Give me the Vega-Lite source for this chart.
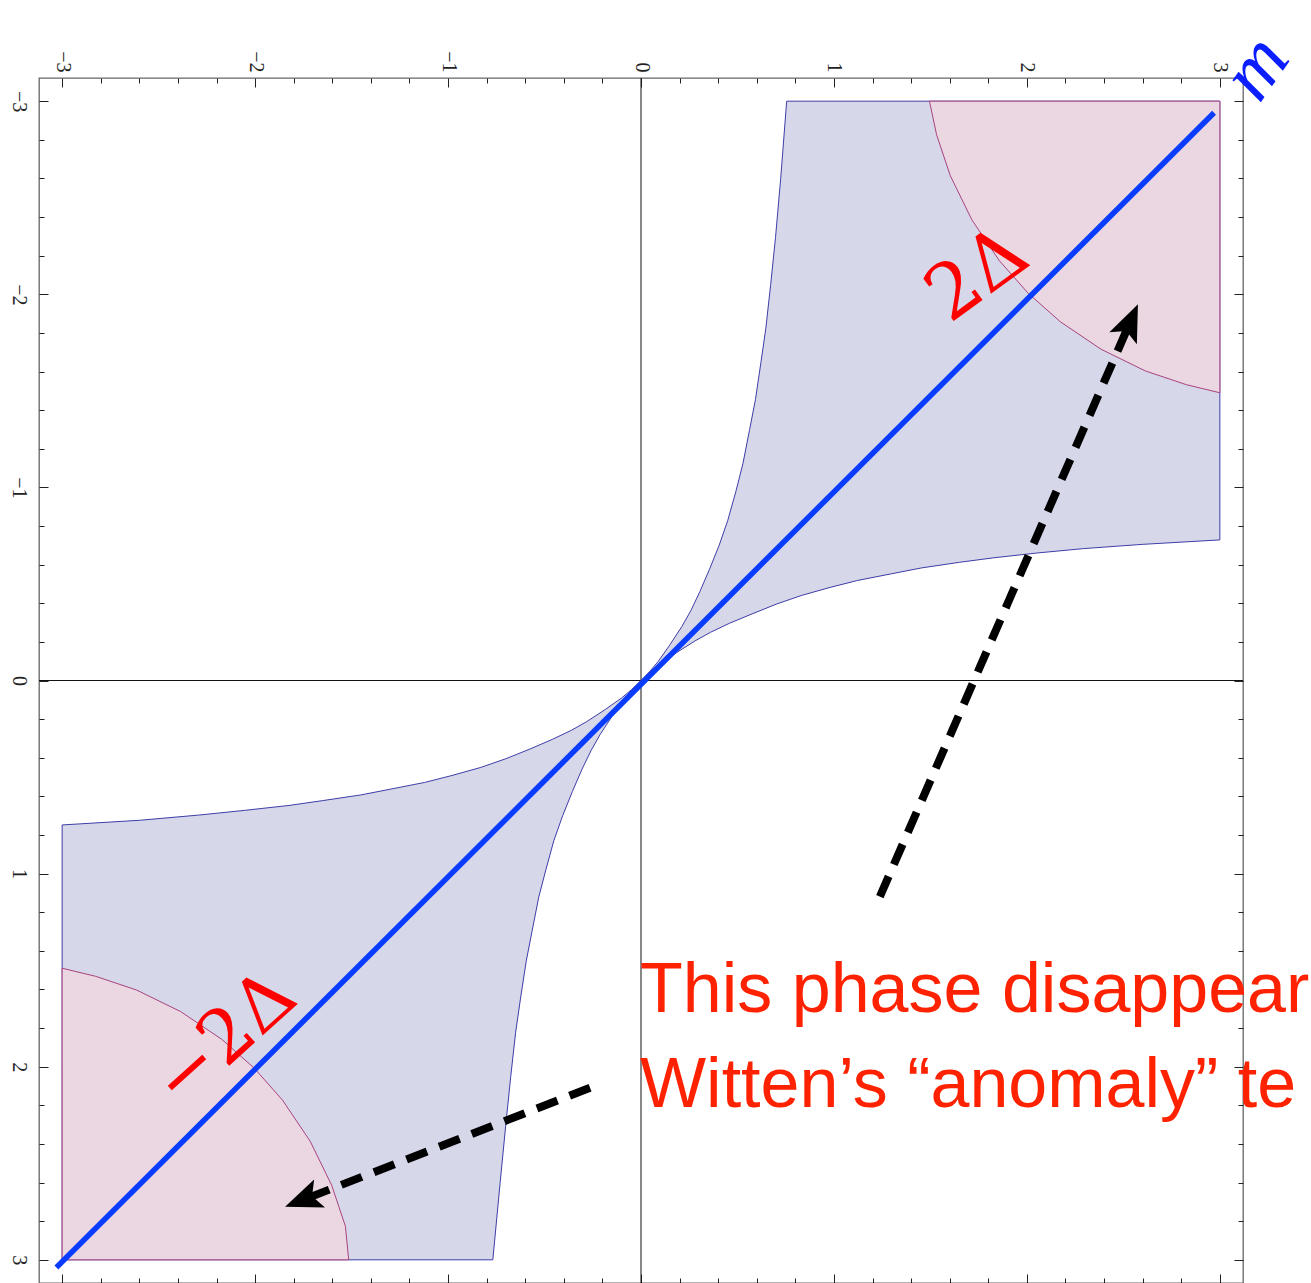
{
  "$schema": "https://vega.github.io/schema/vega-lite/v6.json",
  "width": 1204,
  "height": 1205,
  "autosize": {"type": "none"},
  "padding": {"left": 39, "top": 78, "right": 68, "bottom": 0},
  "background": "white",
  "config": {
    "view": {"stroke": "#666666", "strokeWidth": 1.3},
    "axis": {"grid": false, "domain": false, "title": null, "labelFont": "Liberation Serif", "labelFontSize": 20, "labelColor": "#222222", "tickColor": "#222222", "tickWidth": 1}
  },
  "datasets": {
    "blueUR": [
      {"i": 0, "x": 0, "y": 0}, {"i": 1, "x": 0.048, "y": -0.05}, {"i": 2, "x": 0.09, "y": -0.1},
      {"i": 3, "x": 0.15, "y": -0.185}, {"i": 4, "x": 0.212, "y": -0.28}, {"i": 5, "x": 0.258, "y": -0.361},
      {"i": 6, "x": 0.305, "y": -0.46}, {"i": 7, "x": 0.355, "y": -0.576}, {"i": 8, "x": 0.405, "y": -0.7},
      {"i": 9, "x": 0.45, "y": -0.83}, {"i": 10, "x": 0.492, "y": -0.98}, {"i": 11, "x": 0.528, "y": -1.122},
      {"i": 12, "x": 0.563, "y": -1.3}, {"i": 13, "x": 0.593, "y": -1.454}, {"i": 14, "x": 0.622, "y": -1.65},
      {"i": 15, "x": 0.647, "y": -1.824}, {"i": 16, "x": 0.672, "y": -2.05}, {"i": 17, "x": 0.697, "y": -2.293},
      {"i": 18, "x": 0.724, "y": -2.6}, {"i": 19, "x": 0.755, "y": -3.0}, {"i": 20, "x": 3.0, "y": -3.0},
      {"i": 21, "x": 3.0, "y": -0.728}, {"i": 22, "x": 2.6, "y": -0.705}, {"i": 23, "x": 2.293, "y": -0.683},
      {"i": 24, "x": 2.05, "y": -0.66}, {"i": 25, "x": 1.824, "y": -0.635}, {"i": 26, "x": 1.65, "y": -0.612},
      {"i": 27, "x": 1.454, "y": -0.583}, {"i": 28, "x": 1.3, "y": -0.553}, {"i": 29, "x": 1.122, "y": -0.518},
      {"i": 30, "x": 0.98, "y": -0.482}, {"i": 31, "x": 0.83, "y": -0.44}, {"i": 32, "x": 0.7, "y": -0.395},
      {"i": 33, "x": 0.576, "y": -0.345}, {"i": 34, "x": 0.46, "y": -0.297}, {"i": 35, "x": 0.361, "y": -0.25},
      {"i": 36, "x": 0.28, "y": -0.205}, {"i": 37, "x": 0.185, "y": -0.145}, {"i": 38, "x": 0.1, "y": -0.088},
      {"i": 39, "x": 0.05, "y": -0.047}, {"i": 40, "x": 0, "y": 0}
    ],
    "blueLL": [
      {"i": 0, "x": 0, "y": 0}, {"i": 1, "x": -0.05, "y": 0.048}, {"i": 2, "x": -0.1, "y": 0.09},
      {"i": 3, "x": -0.185, "y": 0.15}, {"i": 4, "x": -0.28, "y": 0.212}, {"i": 5, "x": -0.361, "y": 0.258},
      {"i": 6, "x": -0.46, "y": 0.305}, {"i": 7, "x": -0.576, "y": 0.355}, {"i": 8, "x": -0.7, "y": 0.405},
      {"i": 9, "x": -0.83, "y": 0.45}, {"i": 10, "x": -0.98, "y": 0.492}, {"i": 11, "x": -1.122, "y": 0.528},
      {"i": 12, "x": -1.3, "y": 0.563}, {"i": 13, "x": -1.454, "y": 0.593}, {"i": 14, "x": -1.65, "y": 0.622},
      {"i": 15, "x": -1.824, "y": 0.647}, {"i": 16, "x": -2.05, "y": 0.672}, {"i": 17, "x": -2.293, "y": 0.697},
      {"i": 18, "x": -2.6, "y": 0.724}, {"i": 19, "x": -3.0, "y": 0.748}, {"i": 20, "x": -3.0, "y": 3.0},
      {"i": 21, "x": -0.768, "y": 3.0}, {"i": 22, "x": -0.73, "y": 2.6}, {"i": 23, "x": -0.7, "y": 2.293},
      {"i": 24, "x": -0.675, "y": 2.05}, {"i": 25, "x": -0.65, "y": 1.824}, {"i": 26, "x": -0.625, "y": 1.65},
      {"i": 27, "x": -0.595, "y": 1.454}, {"i": 28, "x": -0.565, "y": 1.3}, {"i": 29, "x": -0.53, "y": 1.122},
      {"i": 30, "x": -0.493, "y": 0.98}, {"i": 31, "x": -0.452, "y": 0.83}, {"i": 32, "x": -0.406, "y": 0.7},
      {"i": 33, "x": -0.356, "y": 0.576}, {"i": 34, "x": -0.306, "y": 0.46}, {"i": 35, "x": -0.258, "y": 0.361},
      {"i": 36, "x": -0.212, "y": 0.28}, {"i": 37, "x": -0.15, "y": 0.185}, {"i": 38, "x": -0.09, "y": 0.1},
      {"i": 39, "x": -0.048, "y": 0.05}, {"i": 40, "x": 0, "y": 0}
    ],
    "pinkUR": [
      {"i": 0, "x": 1.495, "y": -3.0}, {"i": 1, "x": 3.0, "y": -3.0}, {"i": 2, "x": 3.0, "y": -1.49},
      {"i": 3, "x": 2.826, "y": -1.532}, {"i": 4, "x": 2.614, "y": -1.603}, {"i": 5, "x": 2.385, "y": -1.715},
      {"i": 6, "x": 2.173, "y": -1.858}, {"i": 7, "x": 2.006, "y": -2.006}, {"i": 8, "x": 1.858, "y": -2.173},
      {"i": 9, "x": 1.715, "y": -2.385}, {"i": 10, "x": 1.603, "y": -2.614}, {"i": 11, "x": 1.532, "y": -2.826},
      {"i": 12, "x": 1.495, "y": -3.0}
    ],
    "pinkLL": [
      {"i": 0, "x": -3.0, "y": 1.49}, {"i": 1, "x": -2.826, "y": 1.532}, {"i": 2, "x": -2.614, "y": 1.603},
      {"i": 3, "x": -2.385, "y": 1.715}, {"i": 4, "x": -2.173, "y": 1.858}, {"i": 5, "x": -2.006, "y": 2.006},
      {"i": 6, "x": -1.858, "y": 2.173}, {"i": 7, "x": -1.715, "y": 2.385}, {"i": 8, "x": -1.603, "y": 2.614},
      {"i": 9, "x": -1.532, "y": 2.826}, {"i": 10, "x": -1.515, "y": 3.0}, {"i": 11, "x": -3.0, "y": 3.0},
      {"i": 12, "x": -3.0, "y": 1.49}
    ],
    "diag": [{"x": -3.03, "y": 3.04}, {"x": 2.97, "y": -2.94}],
    "arrow1": [{"i": 0, "x": 1.238, "y": 1.119}, {"i": 1, "x": 2.534, "y": -1.853}],
    "arrow2": [{"i": 0, "x": -0.264, "y": 2.109}, {"i": 1, "x": -1.748, "y": 2.688}],
    "head1": [{"x": 2.534, "y": -1.853}],
    "head2": [{"x": -1.748, "y": 2.688}]
  },
  "resolve": {"axis": {"x": "independent", "y": "independent"}},
  "layer": [
    {
      "data": {"values": [{"v": 0}]},
      "mark": {"type": "rule", "color": "#111111", "strokeWidth": 1},
      "encoding": {"x": {"field": "v", "type": "quantitative", "scale": {"domain": [-3.12, 3.12], "nice": false, "zero": false}, "axis": null}}
    },
    {
      "data": {"values": [{"v": 0}]},
      "mark": {"type": "rule", "color": "#111111", "strokeWidth": 1},
      "encoding": {"y": {"field": "v", "type": "quantitative", "scale": {"domain": [-3.12, 3.12], "reverse": true, "nice": false, "zero": false}, "axis": null}}
    },
    {
      "data": {"name": "blueUR"},
      "mark": {"type": "line", "fill": "#d6d8ea", "stroke": "#3d3da8", "strokeWidth": 1},
      "encoding": {
        "x": {"field": "x", "type": "quantitative", "scale": {"domain": [-3.12, 3.12], "nice": false, "zero": false},
              "axis": {"orient": "top", "values": [-3, -2, -1, 0, 1, 2, 3], "tickSize": -9, "labelAngle": 90, "labelAlign": "right", "labelBaseline": "middle", "labelPadding": 15}},
        "y": {"field": "y", "type": "quantitative", "scale": {"domain": [-3.12, 3.12], "reverse": true, "nice": false, "zero": false},
              "axis": {"orient": "left", "values": [-3, -2, -1, 0, 1, 2, 3], "tickSize": -9, "labelAngle": 90, "labelAlign": "center", "labelBaseline": "top", "labelPadding": 20}},
        "order": {"field": "i", "type": "quantitative"}
      }
    },
    {
      "data": {"name": "blueLL"},
      "mark": {"type": "line", "fill": "#d6d8ea", "stroke": "#3d3da8", "strokeWidth": 1},
      "encoding": {
        "x": {"field": "x", "type": "quantitative", "scale": {"domain": [-3.12, 3.12], "nice": false, "zero": false},
              "axis": {"orient": "top", "values": [-2.8, -2.6, -2.4, -2.2, -1.8, -1.6, -1.4, -1.2, -0.8, -0.6, -0.4, -0.2, 0.2, 0.4, 0.6, 0.8, 1.2, 1.4, 1.6, 1.8, 2.2, 2.4, 2.6, 2.8], "tickSize": -5, "labels": false}},
        "y": {"field": "y", "type": "quantitative", "scale": {"domain": [-3.12, 3.12], "reverse": true, "nice": false, "zero": false},
              "axis": {"orient": "left", "values": [-2.8, -2.6, -2.4, -2.2, -1.8, -1.6, -1.4, -1.2, -0.8, -0.6, -0.4, -0.2, 0.2, 0.4, 0.6, 0.8, 1.2, 1.4, 1.6, 1.8, 2.2, 2.4, 2.6, 2.8], "tickSize": -5, "labels": false}},
        "order": {"field": "i", "type": "quantitative"}
      }
    },
    {
      "data": {"name": "pinkUR"},
      "mark": {"type": "line", "fill": "#ead7e2", "stroke": "#a8427e", "strokeWidth": 1},
      "encoding": {
        "x": {"field": "x", "type": "quantitative", "scale": {"domain": [-3.12, 3.12], "nice": false, "zero": false},
              "axis": {"orient": "bottom", "values": [-3, -2, -1, 0, 1, 2, 3], "tickSize": -9, "labels": false}},
        "y": {"field": "y", "type": "quantitative", "scale": {"domain": [-3.12, 3.12], "reverse": true, "nice": false, "zero": false},
              "axis": {"orient": "right", "values": [-3, -2, -1, 0, 1, 2, 3], "tickSize": -9, "labels": false}},
        "order": {"field": "i", "type": "quantitative"}
      }
    },
    {
      "data": {"name": "pinkLL"},
      "mark": {"type": "line", "fill": "#ead7e2", "stroke": "#a8427e", "strokeWidth": 1},
      "encoding": {
        "x": {"field": "x", "type": "quantitative", "scale": {"domain": [-3.12, 3.12], "nice": false, "zero": false},
              "axis": {"orient": "bottom", "values": [-2.8, -2.6, -2.4, -2.2, -1.8, -1.6, -1.4, -1.2, -0.8, -0.6, -0.4, -0.2, 0.2, 0.4, 0.6, 0.8, 1.2, 1.4, 1.6, 1.8, 2.2, 2.4, 2.6, 2.8], "tickSize": -5, "labels": false}},
        "y": {"field": "y", "type": "quantitative", "scale": {"domain": [-3.12, 3.12], "reverse": true, "nice": false, "zero": false},
              "axis": {"orient": "right", "values": [-2.8, -2.6, -2.4, -2.2, -1.8, -1.6, -1.4, -1.2, -0.8, -0.6, -0.4, -0.2, 0.2, 0.4, 0.6, 0.8, 1.2, 1.4, 1.6, 1.8, 2.2, 2.4, 2.6, 2.8], "tickSize": -5, "labels": false}},
        "order": {"field": "i", "type": "quantitative"}
      }
    },
    {
      "data": {"name": "diag"},
      "mark": {"type": "line", "color": "#0a3cff", "strokeWidth": 5.5},
      "encoding": {
        "x": {"field": "x", "type": "quantitative", "axis": null},
        "y": {"field": "y", "type": "quantitative", "axis": null}
      }
    },
    {
      "data": {"name": "arrow1"},
      "mark": {"type": "line", "color": "#000000", "strokeWidth": 8, "strokeDash": [22, 13], "strokeCap": "butt"},
      "encoding": {
        "x": {"field": "x", "type": "quantitative", "axis": null},
        "y": {"field": "y", "type": "quantitative", "axis": null},
        "order": {"field": "i", "type": "quantitative"}
      }
    },
    {
      "data": {"name": "arrow2"},
      "mark": {"type": "line", "color": "#000000", "strokeWidth": 8, "strokeDash": [22, 13], "strokeCap": "butt"},
      "encoding": {
        "x": {"field": "x", "type": "quantitative", "axis": null},
        "y": {"field": "y", "type": "quantitative", "axis": null},
        "order": {"field": "i", "type": "quantitative"}
      }
    },
    {
      "data": {"name": "head1"},
      "mark": {"type": "point", "shape": "M0,-1L0.75,0.85L0,0.45L-0.75,0.85Z", "filled": true, "color": "#000000", "opacity": 1, "size": 1600, "angle": 23.6},
      "encoding": {
        "x": {"field": "x", "type": "quantitative", "axis": null},
        "y": {"field": "y", "type": "quantitative", "axis": null}
      }
    },
    {
      "data": {"name": "head2"},
      "mark": {"type": "point", "shape": "M0,-1L0.75,0.85L0,0.45L-0.75,0.85Z", "filled": true, "color": "#000000", "opacity": 1, "size": 1600, "angle": 248.7},
      "encoding": {
        "x": {"field": "x", "type": "quantitative", "axis": null},
        "y": {"field": "y", "type": "quantitative", "axis": null}
      }
    },
    {
      "data": {"values": [{"x": 1.745, "y": -2.1, "t": "2Δ"}]},
      "mark": {"type": "text", "font": "DejaVu Serif", "fontSize": 76, "angle": -36, "color": "#ff0000", "align": "center", "baseline": "middle"},
      "encoding": {
        "x": {"field": "x", "type": "quantitative", "axis": null},
        "y": {"field": "y", "type": "quantitative", "axis": null},
        "text": {"field": "t"}
      }
    },
    {
      "data": {"values": [{"x": -2.155, "y": 1.86, "t": "−2Δ"}]},
      "mark": {"type": "text", "font": "DejaVu Serif", "fontSize": 74, "angle": -42, "color": "#ff0000", "align": "center", "baseline": "middle"},
      "encoding": {
        "x": {"field": "x", "type": "quantitative", "axis": null},
        "y": {"field": "y", "type": "quantitative", "axis": null},
        "text": {"field": "t"}
      }
    },
    {
      "data": {"values": [{"x": 3.19, "y": -3.17, "t": "m"}]},
      "mark": {"type": "text", "font": "Liberation Serif", "fontStyle": "italic", "fontSize": 78, "angle": -55, "color": "#0a1eff", "align": "center", "baseline": "middle"},
      "encoding": {
        "x": {"field": "x", "type": "quantitative", "axis": null},
        "y": {"field": "y", "type": "quantitative", "axis": null},
        "text": {"field": "t"}
      }
    },
    {
      "data": {"values": [{"x": -0.005, "y": 1.715, "t": "This phase disappear"}, {"x": -0.005, "y": 2.207, "t": "Witten’s “anomaly” te"}]},
      "mark": {"type": "text", "font": "Liberation Sans", "fontSize": 70, "color": "#ff2200", "align": "left", "baseline": "alphabetic"},
      "encoding": {
        "x": {"field": "x", "type": "quantitative", "axis": null},
        "y": {"field": "y", "type": "quantitative", "axis": null},
        "text": {"field": "t"}
      }
    }
  ]
}
